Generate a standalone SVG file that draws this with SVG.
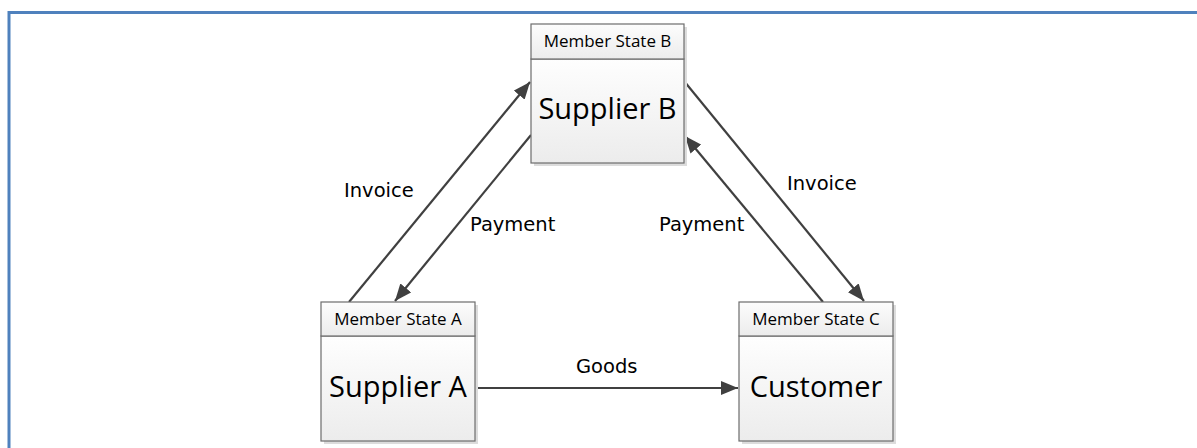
<svg xmlns="http://www.w3.org/2000/svg" width="1197" height="448" viewBox="0 0 1197 448">
<style>
.frame{fill:none;stroke:#4f81bd;stroke-width:3}
.shadow{fill:#dcdcdc}
.hdr{fill:url(#gh);stroke:#6d6d6d;stroke-width:1.2}
.body{fill:url(#gb);stroke:#6d6d6d;stroke-width:1.2}
.ht{font-family:"Open Sans","Noto Sans",sans-serif;font-size:17px;fill:#000;text-anchor:middle}
.bt{font-family:"Open Sans","Noto Sans",sans-serif;font-size:29px;fill:#000;text-anchor:middle}
.edge{stroke:#404040;stroke-width:2.2;fill:none;marker-end:url(#arr)}
.lbl{font-family:"DejaVu Sans",Verdana,sans-serif;font-size:19.5px;fill:#000}
</style>
<defs>
<linearGradient id="gh" x1="0" y1="0" x2="0" y2="1"><stop offset="0" stop-color="#fdfdfd"/><stop offset="1" stop-color="#ececec"/></linearGradient>
<linearGradient id="gb" x1="0" y1="0" x2="0" y2="1"><stop offset="0" stop-color="#fefefe"/><stop offset="1" stop-color="#ececec"/></linearGradient>
<marker id="arr" markerUnits="userSpaceOnUse" markerWidth="18" markerHeight="14" refX="17" refY="7" orient="auto"><path d="M0,0 L17,7 L0,14 z" fill="#404040"/></marker>
</defs>
<rect width="1197" height="448" fill="#fff"/>
<path class="frame" d="M9,448 V12.5 H1197"/>
<g id="connectors">
<line class="edge" x1="349" y1="302" x2="530" y2="82"/>
<line class="edge" x1="531" y1="135" x2="395" y2="301"/>
<line class="edge" x1="684" y1="81" x2="864" y2="301"/>
<line class="edge" x1="823" y1="302" x2="685" y2="136"/>
<line class="edge" x1="476" y1="388" x2="738" y2="388"/>
<text class="lbl" x="344" y="197">Invoice</text>
<text class="lbl" x="470" y="231">Payment</text>
<text class="lbl" x="787" y="190">Invoice</text>
<text class="lbl" x="659" y="231">Payment</text>
<text class="lbl" x="576" y="373">Goods</text>
</g>
<g id="nodeB">
<rect class="shadow" x="534" y="27" width="153" height="139"/>
<rect class="body" x="531" y="59" width="153" height="104"/>
<rect class="hdr" x="531" y="24" width="153" height="35"/>
<text class="ht" x="607.5" y="47">Member State B</text>
<text class="bt" x="607.5" y="119">Supplier B</text>
</g>
<g id="nodeA">
<rect class="shadow" x="324" y="305" width="154" height="139"/>
<rect class="body" x="321" y="336" width="154" height="105"/>
<rect class="hdr" x="321" y="302" width="154" height="34"/>
<text class="ht" x="398" y="324.5">Member State A</text>
<text class="bt" x="398" y="397">Supplier A</text>
</g>
<g id="nodeC">
<rect class="shadow" x="742" y="305" width="154" height="139"/>
<rect class="body" x="739" y="336" width="154" height="105"/>
<rect class="hdr" x="739" y="302" width="154" height="34"/>
<text class="ht" x="816" y="324.5">Member State C</text>
<text class="bt" x="816" y="397">Customer</text>
</g>
</svg>
